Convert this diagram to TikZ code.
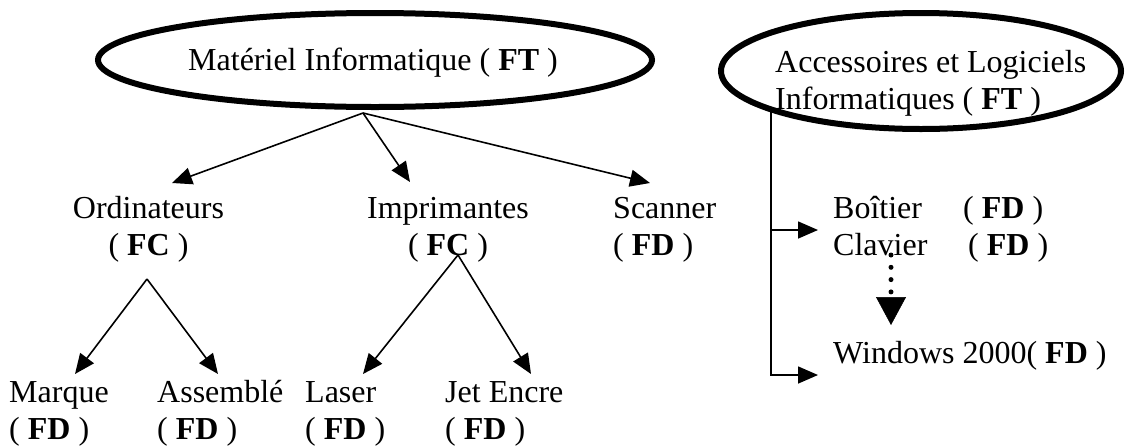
\documentclass[tikz,border=0pt]{standalone}
\usepackage{fontspec}
\setmainfont{Liberation Serif}
\usetikzlibrary{arrows.meta,shapes.geometric}
\newcommand\mystrut{\rule{0pt}{25pt}}
\begin{document}
\begin{tikzpicture}[x=1pt,y=-1pt,
  ell/.style={ellipse, draw, line width=6pt, inner sep=0pt},
  lbl/.style={inner sep=0pt, font=\fontsize{32}{37}\selectfont},
  con/.style={line width=1.6pt},
  arr/.style={con, -{Triangle[length=20pt,width=17pt]}},
  dotarr/.style={line width=5pt, line cap=round, dash pattern=on 0pt off 12.3pt,
    -{Triangle[length=28pt,width=30pt,line width=0.5pt]}}]
\useasboundingbox (0,0) rectangle (1129,445);

% top ellipses
\node[ell, minimum width=554pt, minimum height=94pt] (e1) at (375,60) {};
\node[lbl, anchor=base west] (t1) at (188,70) {Matériel Informatique ( \textbf{FT} )};
\node[ell, minimum width=400pt, minimum height=116pt] (e2) at (921,71) {};
\node[lbl, align=left, anchor=north west] (t2) at (775,47)
  {\mystrut Accessoires et Logiciels\\Informatiques ( \textbf{FT} )};

% second level
\node[lbl, align=center, anchor=north] (ord) at (148.5,193) {\mystrut Ordinateurs\\( \textbf{FC} )};
\node[lbl, align=center, anchor=north] (imp) at (448,193) {\mystrut Imprimantes\\( \textbf{FC} )};
\node[lbl, align=left, anchor=north west] (sca) at (613,193) {\mystrut Scanner\\( \textbf{FD} )};

% third level
\node[lbl, align=left, anchor=north west] (mar) at (9,377) {\mystrut Marque\\( \textbf{FD} )};
\node[lbl, align=left, anchor=north west] (ass) at (157,377) {\mystrut Assemblé\\( \textbf{FD} )};
\node[lbl, align=left, anchor=north west] (las) at (305,377) {\mystrut Laser\\( \textbf{FD} )};
\node[lbl, align=left, anchor=north west] (jet) at (445,377) {\mystrut Jet Encre\\( \textbf{FD} )};

% right side
\node[lbl, align=left, anchor=north west] (bc) at (833,193)
  {\mystrut\makebox[130pt][l]{Boîtier}( \textbf{FD} )\\\makebox[135pt][l]{Clavier}( \textbf{FD} )};
\node[lbl, anchor=base west] (win) at (833,363) {Windows 2000( \textbf{FD} )};

% connectors, left tree
\coordinate (r) at (363,113);
\coordinate (ordT) at (172,183);
\coordinate (impT) at (410,182);
\coordinate (scaT) at (650,183);
\draw[arr] (r) -- (ordT);
\draw[arr] (r) -- (impT);
\draw[arr] (r) -- (scaT);
\coordinate (ordA) at (147,279);
\coordinate (marT) at (75,374);
\coordinate (assT) at (218,374);
\draw[arr] (ordA) -- (marT);
\draw[arr] (ordA) -- (assT);
\coordinate (impA) at (458,255);
\coordinate (lasT) at (363,374);
\coordinate (jetT) at (531,374);
\draw[arr] (impA) -- (lasT);
\draw[arr] (impA) -- (jetT);

% connectors, right side
\coordinate (vt) at (771,110);
\coordinate (vm) at (771,230);
\coordinate (vb) at (771,375);
\coordinate (bcT) at (818,230);
\coordinate (winT) at (818,375);
\draw[arr] (vt) -- (vb) -- (winT);
\draw[arr] (vm) -- (bcT);
\coordinate (dA) at (891,255);
\coordinate (dB) at (891,325);
\draw[dotarr] (dA) -- (dB);
\end{tikzpicture}
\end{document}
